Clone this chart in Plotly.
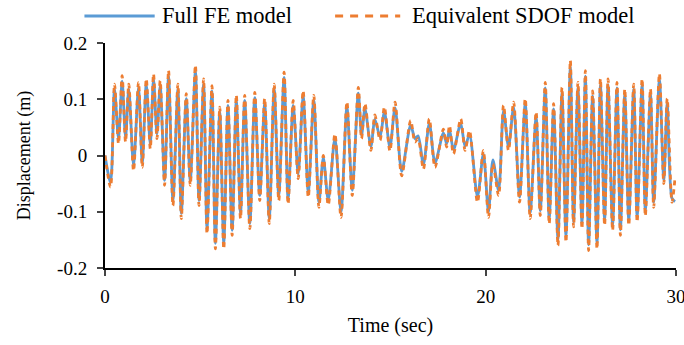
import plotly.graph_objects as go

time_s = [0.00, 0.29, 0.50, 0.71, 0.90, 1.08, 1.25, 1.50, 1.76, 1.96, 2.17, 2.38, 2.55, 2.73, 2.90,
          3.13, 3.34, 3.57, 3.83, 4.01, 4.27, 4.48, 4.75, 4.94, 5.18, 5.36, 5.62, 5.80, 6.03, 6.24,
          6.46, 6.68, 6.90, 7.12, 7.34, 7.61, 7.87, 8.13, 8.39, 8.63, 8.89, 9.13, 9.41, 9.62, 9.89,
          10.15, 10.41, 10.68, 10.97, 11.24, 11.47, 11.73, 12.08, 12.40, 12.71, 12.99, 13.31, 13.48,
          13.66, 13.97, 14.18, 14.45, 14.68, 14.97, 15.24, 15.59, 16.06, 16.29, 16.45, 16.73, 17.04,
          17.34, 17.78, 17.95, 18.10, 18.31, 18.69, 18.92, 19.15, 19.57, 19.88, 20.15, 20.38, 20.68,
          20.94, 21.20, 21.47, 21.78, 22.08, 22.34, 22.65, 22.87, 23.13, 23.34, 23.57, 23.80, 24.01,
          24.22, 24.45, 24.62, 24.85, 25.06, 25.24, 25.41, 25.62, 25.85, 26.03, 26.25, 26.43, 26.67,
          26.90, 27.08, 27.31, 27.52, 27.78, 27.96, 28.22, 28.39, 28.66, 28.83, 29.13, 29.36, 29.54,
          29.79, 29.95]

sdof_disp = [0.000, -0.056, 0.127, 0.021, 0.142, 0.024, 0.127, -0.027, 0.130, -0.021, 0.136, 0.012,
             0.145, 0.030, 0.133, -0.053, 0.151, -0.089, 0.127, -0.112, 0.110, -0.053, 0.160, -0.089,
             0.136, -0.139, 0.124, -0.166, 0.086, -0.166, 0.098, -0.142, 0.107, -0.112, 0.107, -0.130,
             0.112, -0.080, 0.101, -0.121, 0.127, -0.080, 0.148, -0.086, 0.098, -0.041, 0.115, -0.074,
             0.107, -0.092, 0.000, -0.088, 0.038, -0.110, 0.095, -0.071, 0.121, 0.030, 0.092, 0.009,
             0.072, 0.027, 0.086, 0.008, 0.095, -0.036, 0.062, 0.024, 0.030, -0.024, 0.065, -0.021,
             0.047, 0.015, 0.053, 0.003, 0.065, 0.009, 0.044, -0.083, 0.009, -0.110, -0.015, -0.071,
             0.089, 0.009, 0.095, -0.083, 0.101, -0.112, 0.077, -0.107, 0.130, -0.121, 0.092, -0.160,
             0.121, -0.154, 0.169, -0.127, 0.130, -0.130, 0.151, -0.169, 0.115, -0.166, 0.136, -0.124,
             0.136, -0.133, 0.130, -0.142, 0.118, -0.124, 0.127, -0.118, 0.136, -0.107, 0.118, -0.092,
             0.145, -0.050, 0.101, -0.083, -0.040]

fe_disp = [0.000, -0.048, 0.118, 0.030, 0.132, 0.032, 0.118, -0.018, 0.121, -0.012, 0.127, 0.020,
           0.136, 0.038, 0.124, -0.044, 0.141, -0.080, 0.118, -0.103, 0.101, -0.045, 0.150, -0.080,
           0.127, -0.130, 0.115, -0.156, 0.078, -0.156, 0.089, -0.133, 0.098, -0.103, 0.098, -0.121,
           0.103, -0.071, 0.092, -0.112, 0.118, -0.071, 0.139, -0.077, 0.089, -0.033, 0.106, -0.065,
           0.098, -0.083, -0.004, -0.079, 0.031, -0.100, 0.086, -0.062, 0.111, 0.036, 0.083, 0.016,
           0.064, 0.033, 0.077, 0.015, 0.085, -0.028, 0.054, 0.030, 0.035, -0.016, 0.057, -0.013,
           0.040, 0.021, 0.046, 0.010, 0.057, 0.016, 0.037, -0.073, 0.003, -0.100, -0.008, -0.062,
           0.080, 0.016, 0.086, -0.074, 0.092, -0.102, 0.068, -0.098, 0.120, -0.112, 0.083, -0.150,
           0.112, -0.144, 0.158, -0.118, 0.121, -0.121, 0.141, -0.159, 0.106, -0.156, 0.126, -0.115,
           0.126, -0.124, 0.120, -0.132, 0.109, -0.115, 0.118, -0.109, 0.126, -0.098, 0.109, -0.083,
           0.135, -0.043, 0.092, -0.076, -0.082]

x_ticks = [0, 10, 20, 30]
y_ticks = [0.2, 0.1, 0, -0.1, -0.2]
y_tick_labels = ["0.2", "0.1", "0", "-0.1", "-0.2"]

BLUE = "#5B9BD5"
ORANGE = "#ED7D31"
FONT = "Liberation Serif, Times New Roman, serif"

fig = go.Figure()
fig.add_trace(go.Scatter(x=time_s, y=fe_disp, mode="lines", name="Full FE model",
                         line=dict(color=BLUE, width=2.8, shape="spline", smoothing=0.8)))
fig.add_trace(go.Scatter(x=time_s, y=sdof_disp, mode="lines", name="Equivalent SDOF model",
                         line=dict(color=ORANGE, width=2.8, dash="5px,4px", shape="spline", smoothing=0.8)))

fig.update_layout(
    width=684, height=345,
    margin=dict(l=105, r=8, t=43, b=77),
    paper_bgcolor="white", plot_bgcolor="white",
    showlegend=False,
    font=dict(family=FONT, size=19, color="black"),
    xaxis=dict(range=[0, 30.001], tickvals=x_ticks, ticks="outside", ticklen=6, tickwidth=2,
               showline=True, linecolor="black", linewidth=2, showgrid=False, zeroline=False,
               ticklabelstandoff=4, ticklabeloverflow="allow", automargin=False,
               title=dict(text="Time (sec)", standoff=12, font=dict(size=20)), tickfont=dict(size=19)),
    yaxis=dict(range=[-0.2, 0.2], tickvals=y_ticks, ticktext=y_tick_labels, ticks="outside",
               ticklen=6, tickwidth=2, showline=True, linecolor="black", linewidth=2,
               showgrid=False, zeroline=False, ticklabelstandoff=6,
               title=dict(text="Displacement (m)", standoff=22, font=dict(size=18)), tickfont=dict(size=19)),
)

# legend drawn at top
fig.add_shape(type="line", xref="paper", yref="paper", x0=-0.036, x1=0.087, y0=1.12, y1=1.12,
              line=dict(color=BLUE, width=2.8))
fig.add_annotation(xref="paper", yref="paper", x=0.096, y=1.12, text="Full FE model",
                   showarrow=False, xanchor="left", yanchor="middle", font=dict(size=22.5))
fig.add_shape(type="line", xref="paper", yref="paper", x0=0.403, x1=0.517, y0=1.12, y1=1.12,
              line=dict(color=ORANGE, width=2.8, dash="8px,7px"))
fig.add_annotation(xref="paper", yref="paper", x=0.534, y=1.12, text="Equivalent SDOF model",
                   showarrow=False, xanchor="left", yanchor="middle", font=dict(size=22.5))

fig.write_html("out.html")
